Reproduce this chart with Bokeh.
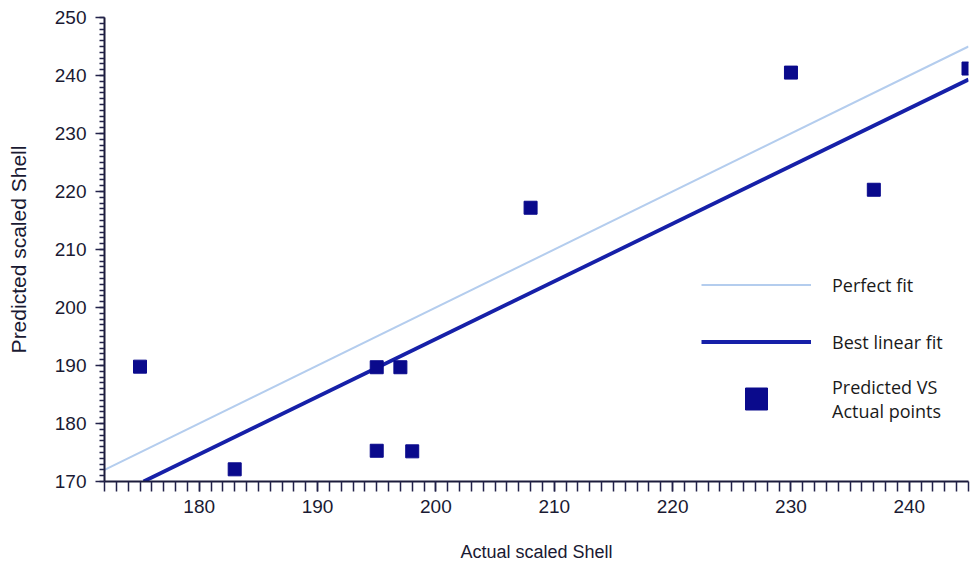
from bokeh.plotting import figure
from bokeh.models import ColumnDataSource, Legend, LegendItem, Range1d, BasicTicker
from bokeh.embed import file_html
from bokeh.resources import INLINE

# ---- data ----
actual = [175, 183, 195, 197, 195, 198, 208, 230, 237, 245]
predicted = [189.8, 172.1, 189.7, 189.7, 175.3, 175.2, 217.2, 240.5, 220.3, 241.2]
perfect_x = [172, 245]
perfect_y = [172, 245]
fit_x = [175.3, 245]
fit_y = [170, 239.3]
x_ticks = [180, 190, 200, 210, 220, 230, 240]
y_ticks = [170, 180, 190, 200, 210, 220, 230, 240, 250]
labels = ["Perfect fit", "Best linear fit", "Predicted VS\nActual points"]

p = figure(width=971, height=570, output_backend="svg", toolbar_location=None,
           x_range=Range1d(172, 245), y_range=Range1d(170, 250),
           min_border_left=104, min_border_right=3, min_border_top=17, min_border_bottom=89)
p.outline_line_color = None
p.grid.visible = False
p.background_fill_color = "white"
p.border_fill_color = "white"

r_perfect = p.line(perfect_x, perfect_y, line_color="#b4cdee", line_width=2)
r_fit = p.line(fit_x, fit_y, line_color="#1620a8", line_width=3.8)
src = ColumnDataSource(dict(x=actual, y=predicted))
r_pts = p.scatter("x", "y", source=src, marker="square", size=13,
                  fill_color="#0a0a8c", line_color="#0a0a8c")

tick_col = "#22224a"
for ax, ticks in ((p.xaxis[0], x_ticks), (p.yaxis[0], y_ticks)):
    ax.ticker = BasicTicker(desired_num_ticks=len(ticks), num_minor_ticks=10)
    ax.axis_line_color = "#1b1b3a"
    ax.axis_line_width = 2
    ax.major_tick_line_color = tick_col
    ax.minor_tick_line_color = tick_col
    ax.major_tick_line_width = 1.5
    ax.minor_tick_line_width = 1.5
    ax.major_tick_in = 0
    ax.minor_tick_in = 0
    ax.major_label_text_font = "Liberation Sans"
    ax.major_label_text_font_size = "19px"
    ax.major_label_text_color = "#1a1a33"
    ax.axis_label_text_font = "Liberation Sans"
    ax.axis_label_text_font_style = "normal"
    ax.axis_label_text_color = "#1a1a33"

p.xaxis[0].major_tick_out = 10
p.xaxis[0].minor_tick_out = 10
p.xaxis[0].major_label_standoff = 8
p.xaxis[0].axis_label = "Actual scaled Shell"
p.xaxis[0].axis_label_text_font_size = "18px"
p.xaxis[0].axis_label_standoff = 26

p.yaxis[0].major_tick_out = 9
p.yaxis[0].minor_tick_out = 5
p.yaxis[0].major_label_standoff = 9
p.yaxis[0].axis_label = "Predicted scaled Shell"
p.yaxis[0].axis_label_text_font_size = "21px"
p.yaxis[0].axis_label_standoff = 22

legend = Legend(items=[LegendItem(label=labels[0], renderers=[r_perfect]),
                       LegendItem(label=labels[1], renderers=[r_fit]),
                       LegendItem(label=labels[2], renderers=[r_pts])],
                location=(597, 55), orientation="vertical",
                glyph_width=110, glyph_height=55, spacing=2, padding=0, margin=0,
                label_standoff=21, border_line_alpha=0, background_fill_alpha=0,
                label_text_font="Open Sans", label_text_font_size="18px",
                label_text_color="#1a1a1a", label_text_line_height=1.5)
p.add_layout(legend, "center")

open("out.html", "w").write(file_html(p, INLINE))
